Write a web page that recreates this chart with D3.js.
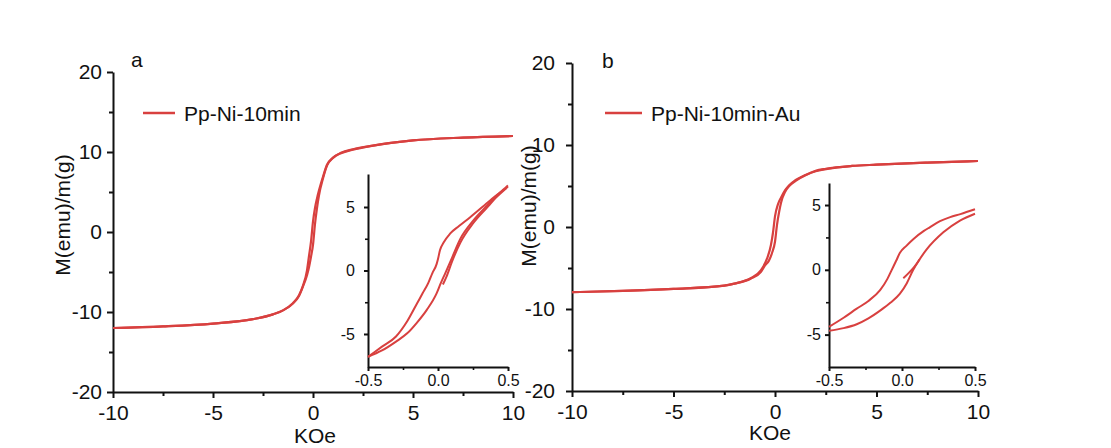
<!DOCTYPE html>
<html>
<head>
<meta charset="utf-8">
<script src="https://cdn.jsdelivr.net/npm/d3@7"></script>
<style>
  body { margin: 0; background: #fff; }
  svg { display: block; }
  text { font-family: Arial, "Liberation Sans", sans-serif; fill: #111; }
  .axis path, .axis line { stroke: #111; }
</style>
</head>
<body>
<svg id="chart" width="1111" height="448"></svg>
<script>
// main loops, field in KOe, moment in emu/g
// upper = field sweeping down from +10, lower = field sweeping up from -10
var upperA = [[10,12.0],[7.5,11.8],[5,11.45],[3,10.8],[2,10.35],[1.4,9.9],[1,9.3],[0.7,8.4],[0.5,6.9],[0.3,5.2],[0.2,4.2],[0.1,3.0],[0,1.3],[-0.1,-1.2],[-0.2,-3.0],[-0.3,-4.8],[-0.5,-6.7],[-0.7,-7.9],[-1,-8.9],[-1.5,-9.8],[-2,-10.3],[-3,-10.9],[-5,-11.45],[-7.5,-11.8],[-10,-12.0]];
var lowerA = [[-10,-12.0],[-7.5,-11.8],[-5,-11.45],[-3,-10.9],[-2,-10.3],[-1.5,-9.8],[-1,-8.9],[-0.7,-8.0],[-0.5,-6.8],[-0.3,-5.4],[-0.2,-4.4],[-0.1,-3.1],[0,-1.6],[0.1,1.0],[0.2,3.0],[0.3,4.6],[0.5,6.7],[0.7,8.3],[1,9.25],[1.4,9.85],[2,10.3],[3,10.8],[5,11.45],[7.5,11.8],[10,12.0]];
var upperB = [[10,8.05],[7.5,7.85],[5,7.6],[3.8,7.45],[2.5,7.1],[2,6.85],[1.5,6.35],[1,5.7],[0.7,5.1],[0.5,4.5],[0.3,3.6],[0.15,2.8],[0,1.3],[-0.1,-0.7],[-0.2,-2.2],[-0.4,-3.9],[-0.7,-5.3],[-1.2,-6.25],[-2,-6.9],[-2.5,-7.15],[-5,-7.55],[-7.5,-7.8],[-10,-7.95]];
var lowerB = [[-10,-7.95],[-7.5,-7.8],[-5,-7.55],[-2.5,-7.15],[-2,-6.9],[-1.2,-6.3],[-0.7,-5.5],[-0.5,-4.7],[-0.3,-4.1],[-0.15,-3.2],[0,-1.8],[0.1,0.3],[0.2,1.8],[0.3,3.0],[0.5,4.3],[0.7,5.0],[1,5.6],[1.5,6.3],[2,6.8],[3.8,7.45],[5,7.6],[7.5,7.85],[10,8.05]];

// inset loops (-0.5 .. 0.5 KOe)
var upperAin = [[0.5,6.7],[0.48,6.5],[0.37,5.5],[0.23,4.2],[0.15,3.5],[0.086,2.9],[0.04,2.2],[0.014,1.6],[0,0.9],[-0.01,0.5],[-0.04,-0.2],[-0.07,-1.0],[-0.11,-1.8],[-0.15,-2.6],[-0.22,-4.0],[-0.3,-5.2],[-0.4,-6.0],[-0.5,-6.8]];
var lowerAin = [[-0.5,-6.8],[-0.4,-6.3],[-0.3,-5.6],[-0.22,-4.95],[-0.15,-4.1],[-0.08,-3.1],[-0.01,-1.8],[0.02,-1.0],[0.05,-0.26],[0.1,1.0],[0.16,2.5],[0.25,3.9],[0.35,5.1],[0.42,5.9],[0.5,6.6]];
var virginAin = [[0.035,-1.1],[0.06,-0.5],[0.1,0.7],[0.16,2.2],[0.25,3.7],[0.35,4.95],[0.42,5.8],[0.49,6.5]];
var upperBin = [[0.5,4.67],[0.4,4.3],[0.33,4.07],[0.26,3.75],[0.19,3.28],[0.15,3.0],[0.077,2.36],[0.03,1.85],[-0.014,1.31],[-0.04,0.7],[-0.07,0.0],[-0.1,-0.7],[-0.15,-1.57],[-0.23,-2.4],[-0.31,-3.0],[-0.4,-3.7],[-0.5,-4.4]];
var lowerBin = [[-0.5,-4.7],[-0.4,-4.5],[-0.31,-4.2],[-0.23,-3.75],[-0.15,-3.15],[-0.08,-2.55],[-0.014,-1.84],[0.032,-1.05],[0.077,0.0],[0.12,0.8],[0.169,1.57],[0.283,2.89],[0.397,3.8],[0.5,4.33]];
var virginBin = [[0.009,-0.65],[0.05,-0.2],[0.087,0.26],[0.12,0.8]];

var mainTicksX = [-10,-5,0,5,10], mainMinorX = [-7.5,-2.5,2.5,7.5];
var mainTicksY = [-20,-10,0,10,20], mainMinorY = [-15,-5,5,15];
var inTicksX = [-0.5,0,0.5], inMinorX = [-0.25,0.25];
var inTicksY = [-5,0,5], inMinorY = [-2.5,2.5];

var red = "#d8403f";
var svg = d3.select("#chart");

// plain hyphen like the original, not the unicode minus
function fmtMain(d){ return String(d); }
function fmtIn(d){ return d.toFixed(1); }

// sort by field so monotone smoothing works on both sweep directions
function byX(s){ return s.slice().sort(function(a,b){ return a[0]-b[0]; }); }

function drawPanel(p){
  var g = svg.append("g");
  var x = d3.scaleLinear().domain([-10,10]).range(p.xr),
      y = d3.scaleLinear().domain([-20,20]).range(p.yr);

  // minor ticks first
  g.append("g").attr("class","axis").attr("transform","translate(0,"+p.yr[0]+")")
    .call(d3.axisBottom(x).tickValues(mainMinorX).tickSize(4).tickSizeOuter(0).tickFormat(""))
    .call(function(a){ a.select(".domain").remove(); a.selectAll("line").attr("stroke-width",2); });
  g.append("g").attr("class","axis").attr("transform","translate("+p.xr[0]+",0)")
    .call(d3.axisLeft(y).tickValues(mainMinorY).tickSize(4).tickSizeOuter(0).tickFormat(""))
    .call(function(a){ a.select(".domain").remove(); a.selectAll("line").attr("stroke-width",2); });

  var ax = g.append("g").attr("class","axis").attr("transform","translate(0,"+p.yr[0]+")")
    .call(d3.axisBottom(x).tickValues(mainTicksX).tickSize(6).tickPadding(7).tickSizeOuter(0).tickFormat(fmtMain));
  var ay = g.append("g").attr("class","axis").attr("transform","translate("+p.xr[0]+",0)")
    .call(d3.axisLeft(y).tickValues(mainTicksY).tickSize(6).tickPadding(p.ypad).tickSizeOuter(0).tickFormat(fmtMain));
  [ax, ay].forEach(function(a){
    a.select(".domain").attr("stroke-width",2);
    a.selectAll("line").attr("stroke-width",2);
    a.selectAll("text").attr("font-size",21).attr("font-family","Arial, 'Liberation Sans', sans-serif").attr("fill","#111");
  });

  var line = d3.line().curve(d3.curveMonotoneX)
    .x(function(d){ return x(d[0]); }).y(function(d){ return y(d[1]); });
  [p.upper, p.lower].forEach(function(s){
    g.append("path").attr("d", line(byX(s))).attr("fill","none").attr("stroke",red).attr("stroke-width",2.2);
  });

  g.append("text").attr("x",p.titleX[0]).attr("y",p.titleX[1]).attr("text-anchor","middle").attr("font-size",21).text("KOe");
  g.append("text").attr("transform","translate("+p.titleY[0]+","+p.titleY[1]+") rotate(-90)")
    .attr("text-anchor","middle").attr("font-size",21).text("M(emu)/m(g)");
  g.append("text").attr("x",p.letter[0]).attr("y",p.letter[1]).attr("font-size",21).text(p.name);

  // legend
  g.append("line").attr("x1",p.leg[0]).attr("x2",p.leg[0]+p.leg[2]).attr("y1",p.leg[1]).attr("y2",p.leg[1])
    .attr("stroke",red).attr("stroke-width",2.5);
  g.append("text").attr("x",p.leg[0]+p.leg[2]+9).attr("y",p.leg[1]+8).attr("font-size",21).text(p.label);

  // inset
  var ix = d3.scaleLinear().domain([-0.5,0.5]).range(p.ixr),
      iy = d3.scaleLinear().domain(p.iyd).range(p.iyr);
  g.append("g").attr("class","axis").attr("transform","translate(0,"+p.iyr[0]+")")
    .call(d3.axisBottom(ix).tickValues(inMinorX).tickSize(3).tickSizeOuter(0).tickFormat(""))
    .call(function(a){ a.select(".domain").remove(); a.selectAll("line").attr("stroke-width",1.6); });
  g.append("g").attr("class","axis").attr("transform","translate("+p.ixr[0]+",0)")
    .call(d3.axisLeft(iy).tickValues(inMinorY).tickSize(3).tickSizeOuter(0).tickFormat(""))
    .call(function(a){ a.select(".domain").remove(); a.selectAll("line").attr("stroke-width",1.6); });
  var ix1 = g.append("g").attr("class","axis").attr("transform","translate(0,"+p.iyr[0]+")")
    .call(d3.axisBottom(ix).tickValues(inTicksX).tickSize(4).tickPadding(4).tickSizeOuter(0).tickFormat(fmtIn));
  var iy1 = g.append("g").attr("class","axis").attr("transform","translate("+p.ixr[0]+",0)")
    .call(d3.axisLeft(iy).tickValues(inTicksY).tickSize(4).tickPadding(p.iypad).tickSizeOuter(0).tickFormat(fmtMain));
  [ix1, iy1].forEach(function(a){
    a.select(".domain").attr("stroke-width",2);
    a.selectAll("line").attr("stroke-width",2);
    a.selectAll("text").attr("font-size",16).attr("font-family","Arial, 'Liberation Sans', sans-serif").attr("fill","#111");
  });
  var iline = d3.line().curve(d3.curveMonotoneX)
    .x(function(d){ return ix(d[0]); }).y(function(d){ return iy(d[1]); });
  [p.upperIn, p.lowerIn, p.virginIn].forEach(function(s){
    g.append("path").attr("d", iline(byX(s))).attr("fill","none").attr("stroke",red).attr("stroke-width",2);
  });
}

drawPanel({name:"a", label:"Pp-Ni-10min", xr:[113,513], yr:[392,72], ypad:5,
  upper:upperA, lower:lowerA, titleX:[315,443], titleY:[70,215], letter:[131,67], leg:[143,113,32],
  ixr:[368,508], iyd:[-7.6,7.6], iyr:[367,174], iypad:9, upperIn:upperAin, lowerIn:lowerAin, virginIn:virginAin});
drawPanel({name:"b", label:"Pp-Ni-10min-Au", xr:[572,978], yr:[391,63], ypad:11,
  upper:upperB, lower:lowerB, titleX:[770,440], titleY:[536,206], letter:[602,68], leg:[605,113,37],
  ixr:[829,975], iyd:[-7.5,6.7], iyr:[367,183], iypad:4, upperIn:upperBin, lowerIn:lowerBin, virginIn:virginBin});
</script>
</body>
</html>
